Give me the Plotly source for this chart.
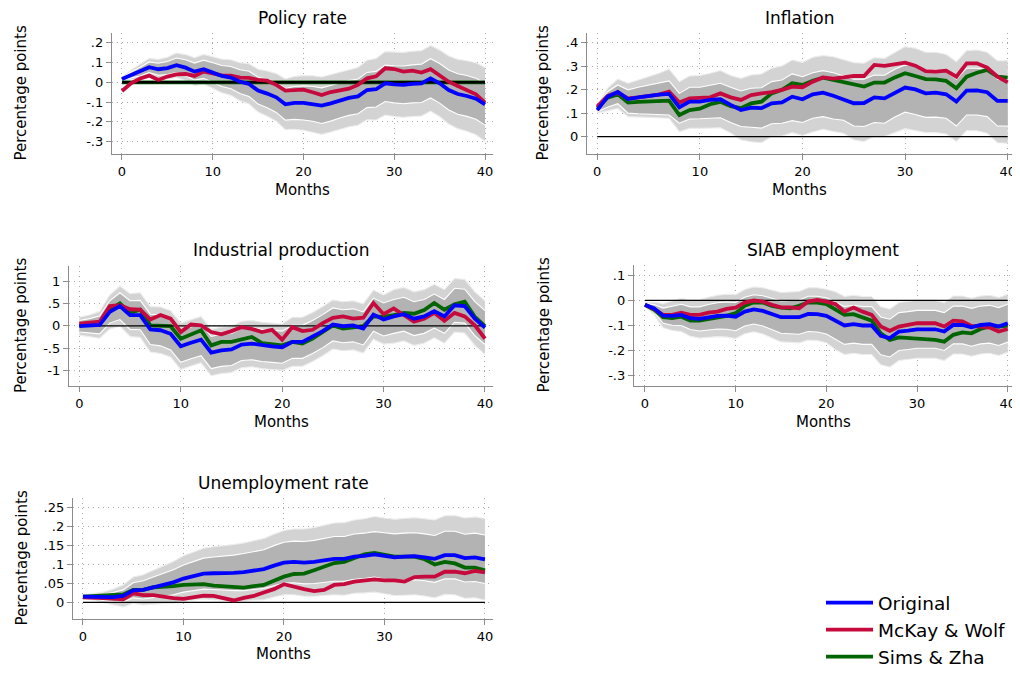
import plotly.graph_objects as go

# horizon in months
MONTHS = list(range(41))

# ---- Policy rate ----
POLICY_ORIG = [0.017, 0.037, 0.054, 0.076, 0.066, 0.072, 0.086, 0.074, 0.054, 0.066, 0.049, 0.032, 0.024, 0.003,
               -0.008, -0.042, -0.057, -0.076, -0.111, -0.104, -0.104, -0.109, -0.118, -0.106, -0.091, -0.079,
               -0.071, -0.039, -0.035, -0.005, -0.010, -0.013, -0.008, -0.005, 0.020, -0.005, -0.039, -0.059,
               -0.069, -0.083, -0.111]
POLICY_MW = [-0.044, -0.005, 0.019, 0.034, 0.012, 0.029, 0.040, 0.042, 0.032, 0.054, 0.045, 0.035, 0.034, 0.024,
             0.022, 0.012, 0.008, -0.013, -0.042, -0.040, -0.037, -0.050, -0.064, -0.049, -0.039, -0.032, -0.013,
             0.020, 0.030, 0.071, 0.067, 0.054, 0.059, 0.049, 0.066, 0.037, 0.003, -0.019, -0.039, -0.061, -0.103]
POLICY_SZ = [0.0, 0.0, 0.0, 0.0, 0.0, 0.0, 0.0, 0.0, 0.0, 0.0, 0.0, 0.0, 0.0, 0.0, 0.0, 0.0, 0.0, 0.0, 0.0, 0.0,
             0.0, 0.0, 0.0, 0.0, 0.0, 0.0, 0.0, 0.0, 0.0, 0.0, 0.0, 0.0, 0.0, 0.0, 0.0, 0.0, 0.0, 0.0, 0.0, 0.0, 0.0]
POLICY_HI90 = [0.025, 0.062, 0.091, 0.121, 0.116, 0.127, 0.148, 0.140, 0.124, 0.141, 0.129, 0.117, 0.114, 0.099,
               0.094, 0.066, 0.057, 0.044, 0.017, 0.029, 0.034, 0.033, 0.027, 0.039, 0.054, 0.066, 0.075, 0.111,
               0.120, 0.155, 0.153, 0.151, 0.157, 0.160, 0.186, 0.163, 0.133, 0.116, 0.109, 0.099, 0.075]
POLICY_HI68 = [0.021, 0.052, 0.076, 0.103, 0.096, 0.105, 0.123, 0.114, 0.097, 0.112, 0.099, 0.085, 0.080, 0.063,
               0.056, 0.026, 0.015, 0.000, -0.031, -0.021, -0.018, -0.021, -0.028, -0.016, -0.002, 0.009, 0.017,
               0.050, 0.055, 0.087, 0.084, 0.082, 0.088, 0.092, 0.119, 0.095, 0.062, 0.043, 0.034, 0.021, -0.006]
POLICY_LO68 = [0.013, 0.022, 0.032, 0.049, 0.036, 0.039, 0.049, 0.034, 0.011, 0.020, -0.001, -0.021, -0.032, -0.057,
               -0.072, -0.110, -0.129, -0.152, -0.191, -0.187, -0.190, -0.197, -0.208, -0.196, -0.180, -0.167,
               -0.159, -0.128, -0.125, -0.097, -0.104, -0.108, -0.104, -0.102, -0.079, -0.105, -0.140, -0.161,
               -0.172, -0.187, -0.216]
POLICY_LO90 = [0.009, 0.012, 0.017, 0.031, 0.016, 0.017, 0.024, 0.008, -0.016, -0.009, -0.031, -0.053, -0.066,
               -0.093, -0.110, -0.150, -0.171, -0.196, -0.239, -0.237, -0.242, -0.251, -0.263, -0.251, -0.236,
               -0.224, -0.217, -0.189, -0.190, -0.165, -0.173, -0.177, -0.173, -0.170, -0.146, -0.173, -0.211,
               -0.234, -0.247, -0.265, -0.297]
POLICY_TICKS = [-0.3, -0.2, -0.1, 0, 0.1, 0.2]
POLICY_TICKTEXT = ["-.3", "-.2", "-.1", "0", ".1", ".2"]

# ---- Inflation ----
INFL_ORIG = [0.113, 0.170, 0.190, 0.160, 0.167, 0.174, 0.179, 0.182, 0.125, 0.149, 0.149, 0.156, 0.159, 0.135,
             0.113, 0.123, 0.121, 0.142, 0.146, 0.170, 0.159, 0.180, 0.187, 0.174, 0.160, 0.142, 0.143, 0.167,
             0.163, 0.187, 0.209, 0.201, 0.184, 0.187, 0.180, 0.149, 0.196, 0.197, 0.189, 0.152, 0.152]
INFL_MW = [0.128, 0.173, 0.187, 0.163, 0.167, 0.173, 0.179, 0.191, 0.145, 0.163, 0.165, 0.167, 0.184, 0.167,
           0.156, 0.177, 0.184, 0.189, 0.199, 0.213, 0.210, 0.234, 0.252, 0.247, 0.252, 0.258, 0.258, 0.305,
           0.301, 0.309, 0.315, 0.302, 0.279, 0.277, 0.281, 0.255, 0.312, 0.312, 0.294, 0.255, 0.231]
INFL_SZ = [0.121, 0.166, 0.180, 0.145, 0.148, 0.150, 0.153, 0.153, 0.092, 0.113, 0.119, 0.138, 0.148, 0.130,
           0.121, 0.142, 0.149, 0.184, 0.199, 0.227, 0.220, 0.238, 0.251, 0.241, 0.234, 0.220, 0.213, 0.230,
           0.230, 0.252, 0.270, 0.258, 0.245, 0.244, 0.237, 0.206, 0.255, 0.272, 0.284, 0.255, 0.251]
INFL_HI90 = [0.130, 0.206, 0.245, 0.227, 0.241, 0.255, 0.270, 0.287, 0.234, 0.258, 0.260, 0.270, 0.281, 0.260,
             0.248, 0.262, 0.267, 0.291, 0.301, 0.326, 0.316, 0.338, 0.345, 0.340, 0.329, 0.315, 0.312, 0.336,
             0.333, 0.357, 0.383, 0.376, 0.359, 0.359, 0.350, 0.319, 0.366, 0.369, 0.359, 0.323, 0.323]
INFL_HI68 = [0.125, 0.191, 0.220, 0.199, 0.210, 0.220, 0.227, 0.237, 0.184, 0.210, 0.210, 0.220, 0.227, 0.210,
             0.194, 0.206, 0.208, 0.234, 0.241, 0.267, 0.255, 0.272, 0.281, 0.272, 0.258, 0.244, 0.244, 0.262,
             0.261, 0.287, 0.305, 0.301, 0.284, 0.284, 0.277, 0.244, 0.291, 0.291, 0.284, 0.244, 0.244]
INFL_LO68 = [0.106, 0.125, 0.140, 0.100, 0.097, 0.095, 0.093, 0.092, 0.057, 0.075, 0.076, 0.079, 0.080, 0.060,
             0.043, 0.040, 0.036, 0.055, 0.057, 0.068, 0.060, 0.078, 0.085, 0.075, 0.070, 0.045, 0.043, 0.060,
             0.057, 0.083, 0.104, 0.094, 0.082, 0.083, 0.078, 0.045, 0.092, 0.092, 0.085, 0.045, 0.045]
INFL_LO90 = [0.100, 0.110, 0.120, 0.085, 0.083, 0.080, 0.079, 0.078, 0.021, 0.035, 0.035, 0.037, 0.038, 0.015,
             -0.014, -0.022, -0.026, 0.000, 0.002, 0.017, 0.005, 0.020, 0.031, 0.022, 0.014, -0.014, -0.021,
             0.000, 0.000, 0.017, 0.034, 0.026, 0.017, 0.017, 0.011, -0.021, 0.026, 0.025, 0.014, -0.026, -0.028]
INFL_TICKS = [0, 0.1, 0.2, 0.3, 0.4]
INFL_TICKTEXT = ["0", ".1", ".2", ".3", ".4"]

# ---- Industrial production ----
IP_ORIG = [-0.01, 0.00, 0.02, 0.31, 0.44, 0.24, 0.24, -0.08, -0.10, -0.18, -0.46, -0.38, -0.31, -0.60, -0.55,
           -0.53, -0.42, -0.40, -0.44, -0.46, -0.48, -0.36, -0.36, -0.25, -0.12, 0.03, -0.01, 0.01, -0.06, 0.25,
           0.14, 0.21, 0.26, 0.16, 0.21, 0.33, 0.21, 0.46, 0.44, 0.16, -0.04]
IP_MW = [0.05, 0.06, 0.09, 0.44, 0.46, 0.37, 0.36, 0.14, 0.24, 0.16, -0.14, 0.03, 0.01, -0.14, -0.19, -0.12,
         -0.03, -0.07, -0.14, -0.09, -0.31, -0.03, -0.12, -0.09, 0.06, 0.18, 0.21, 0.16, 0.18, 0.51, 0.26, 0.39,
         0.24, 0.09, 0.16, 0.29, 0.11, 0.29, 0.21, 0.01, -0.29]
IP_SZ = [0.01, 0.03, 0.06, 0.36, 0.50, 0.29, 0.36, 0.01, 0.01, -0.01, -0.29, -0.19, -0.10, -0.44, -0.36, -0.36,
         -0.31, -0.25, -0.39, -0.42, -0.44, -0.36, -0.40, -0.29, -0.14, 0.01, -0.06, -0.03, -0.01, 0.21, 0.20,
         0.24, 0.29, 0.27, 0.35, 0.51, 0.36, 0.48, 0.54, 0.20, -0.01]
IP_HI90 = [0.19, 0.24, 0.32, 0.69, 0.89, 0.72, 0.74, 0.43, 0.42, 0.34, 0.06, 0.14, 0.21, -0.08, -0.03, -0.01,
           0.10, 0.12, 0.08, 0.06, 0.04, 0.19, 0.19, 0.30, 0.43, 0.58, 0.54, 0.56, 0.49, 0.80, 0.69, 0.81, 0.86,
           0.76, 0.81, 0.93, 0.81, 1.06, 1.04, 0.76, 0.56]
IP_HI68 = [0.12, 0.16, 0.22, 0.56, 0.74, 0.56, 0.57, 0.26, 0.25, 0.18, -0.10, -0.02, 0.05, -0.24, -0.19, -0.17,
           -0.06, -0.04, -0.08, -0.10, -0.12, 0.01, 0.01, 0.12, 0.25, 0.40, 0.36, 0.38, 0.31, 0.62, 0.51, 0.59,
           0.64, 0.54, 0.59, 0.71, 0.59, 0.84, 0.82, 0.54, 0.34]
IP_LO68 = [-0.14, -0.16, -0.18, 0.06, 0.14, -0.08, -0.09, -0.42, -0.45, -0.54, -0.82, -0.74, -0.67, -0.96, -0.91,
           -0.89, -0.78, -0.76, -0.80, -0.82, -0.84, -0.73, -0.73, -0.62, -0.49, -0.34, -0.38, -0.36, -0.43,
           -0.12, -0.23, -0.17, -0.12, -0.22, -0.17, -0.05, -0.17, 0.08, 0.06, -0.22, -0.42]
IP_LO90 = [-0.21, -0.24, -0.28, -0.07, -0.01, -0.24, -0.26, -0.59, -0.62, -0.70, -0.98, -0.90, -0.83, -1.12,
           -1.07, -1.05, -0.94, -0.92, -0.96, -0.98, -1.00, -0.91, -0.91, -0.80, -0.67, -0.52, -0.56, -0.54,
           -0.61, -0.30, -0.41, -0.39, -0.34, -0.44, -0.39, -0.27, -0.39, -0.14, -0.16, -0.44, -0.64]
IP_TICKS = [-1, -0.5, 0, 0.5, 1]
IP_TICKTEXT = ["-1", "-.5", "0", ".5", "1"]

# ---- SIAB employment ----
SIAB_ORIG = [-0.018, -0.032, -0.061, -0.062, -0.058, -0.071, -0.074, -0.067, -0.062, -0.061, -0.065, -0.045,
             -0.036, -0.042, -0.054, -0.067, -0.067, -0.067, -0.054, -0.055, -0.062, -0.081, -0.100, -0.095,
             -0.100, -0.100, -0.141, -0.150, -0.124, -0.120, -0.115, -0.115, -0.115, -0.124, -0.098, -0.098,
             -0.107, -0.098, -0.095, -0.104, -0.091]
SIAB_MW = [-0.018, -0.034, -0.058, -0.058, -0.049, -0.058, -0.058, -0.049, -0.045, -0.034, -0.029, -0.009,
           -0.001, -0.005, -0.018, -0.028, -0.028, -0.032, -0.005, 0.001, -0.005, -0.015, -0.045, -0.029, -0.045,
           -0.058, -0.104, -0.121, -0.104, -0.098, -0.091, -0.091, -0.091, -0.104, -0.081, -0.084, -0.102,
           -0.104, -0.108, -0.124, -0.114]
SIAB_SZ = [-0.018, -0.038, -0.067, -0.071, -0.065, -0.081, -0.081, -0.074, -0.067, -0.062, -0.051, -0.022,
           -0.008, -0.009, -0.022, -0.029, -0.032, -0.022, -0.008, -0.009, -0.015, -0.036, -0.058, -0.055, -0.067,
           -0.081, -0.131, -0.157, -0.147, -0.150, -0.153, -0.153, -0.157, -0.164, -0.137, -0.127, -0.131,
           -0.114, -0.104, -0.104, -0.100]
SIAB_HI90 = [-0.010, -0.007, -0.013, -0.004, 0.008, 0.001, 0.002, 0.012, 0.020, 0.024, 0.022, 0.043, 0.053,
             0.050, 0.041, 0.031, 0.033, 0.035, 0.050, 0.050, 0.044, 0.034, 0.015, 0.020, 0.015, 0.015, -0.026,
             -0.035, -0.009, -0.005, 0.000, 0.000, 0.000, -0.009, 0.017, 0.017, 0.008, 0.017, 0.020, 0.011, 0.024]
SIAB_HI68 = [-0.013, -0.017, -0.031, -0.025, -0.016, -0.026, -0.026, -0.017, -0.010, -0.007, -0.009, 0.012,
             0.022, 0.018, 0.008, -0.003, -0.001, 0.001, 0.016, 0.016, 0.010, -0.006, -0.025, -0.020, -0.025,
             -0.025, -0.066, -0.075, -0.049, -0.045, -0.040, -0.040, -0.040, -0.049, -0.023, -0.023, -0.032,
             -0.023, -0.020, -0.029, -0.016]
SIAB_LO68 = [-0.023, -0.047, -0.091, -0.099, -0.100, -0.116, -0.122, -0.117, -0.114, -0.115, -0.121, -0.102,
             -0.094, -0.102, -0.116, -0.131, -0.133, -0.135, -0.124, -0.126, -0.134, -0.156, -0.175, -0.170,
             -0.175, -0.175, -0.216, -0.225, -0.199, -0.195, -0.190, -0.190, -0.190, -0.199, -0.173, -0.173,
             -0.182, -0.173, -0.170, -0.179, -0.166]
SIAB_LO90 = [-0.026, -0.057, -0.109, -0.120, -0.124, -0.143, -0.150, -0.146, -0.144, -0.146, -0.152, -0.133,
             -0.125, -0.134, -0.149, -0.165, -0.167, -0.169, -0.158, -0.160, -0.168, -0.196, -0.215, -0.210,
             -0.215, -0.215, -0.256, -0.265, -0.239, -0.235, -0.230, -0.230, -0.230, -0.239, -0.213, -0.213,
             -0.222, -0.213, -0.210, -0.219, -0.206]
SIAB_TICKS = [-0.3, -0.2, -0.1, 0, 0.1]
SIAB_TICKTEXT = ["-.3", "-.2", "-.1", "0", ".1"]

# ---- Unemployment rate ----
UNEMP_ORIG = [0.015, 0.015, 0.013, 0.014, 0.017, 0.032, 0.033, 0.040, 0.046, 0.053, 0.063, 0.070, 0.076, 0.077,
              0.077, 0.078, 0.080, 0.085, 0.088, 0.097, 0.105, 0.107, 0.105, 0.107, 0.111, 0.115, 0.115, 0.121,
              0.123, 0.127, 0.123, 0.119, 0.121, 0.122, 0.119, 0.115, 0.125, 0.125, 0.117, 0.119, 0.114]
UNEMP_MW = [0.013, 0.013, 0.011, 0.010, 0.008, 0.024, 0.019, 0.019, 0.014, 0.011, 0.009, 0.014, 0.018, 0.017,
            0.012, 0.005, 0.012, 0.017, 0.026, 0.035, 0.048, 0.041, 0.035, 0.030, 0.033, 0.046, 0.048, 0.055,
            0.057, 0.061, 0.058, 0.058, 0.055, 0.067, 0.068, 0.068, 0.081, 0.081, 0.077, 0.083, 0.079]
UNEMP_SZ = [0.015, 0.017, 0.018, 0.019, 0.021, 0.033, 0.033, 0.040, 0.041, 0.043, 0.046, 0.047, 0.048, 0.044,
            0.043, 0.040, 0.039, 0.043, 0.046, 0.057, 0.068, 0.075, 0.076, 0.085, 0.094, 0.104, 0.107, 0.118,
            0.127, 0.131, 0.127, 0.121, 0.121, 0.121, 0.114, 0.100, 0.107, 0.103, 0.092, 0.092, 0.085]
UNEMP_HI90 = [0.020, 0.024, 0.027, 0.035, 0.046, 0.067, 0.073, 0.085, 0.096, 0.108, 0.123, 0.134, 0.143, 0.147,
              0.149, 0.153, 0.157, 0.164, 0.169, 0.180, 0.190, 0.194, 0.194, 0.198, 0.204, 0.210, 0.211, 0.218,
              0.221, 0.227, 0.223, 0.220, 0.222, 0.224, 0.221, 0.218, 0.229, 0.230, 0.223, 0.226, 0.222]
UNEMP_HI68 = [0.018, 0.020, 0.021, 0.026, 0.033, 0.052, 0.057, 0.067, 0.076, 0.086, 0.099, 0.109, 0.117, 0.120,
              0.122, 0.125, 0.129, 0.135, 0.139, 0.150, 0.159, 0.162, 0.161, 0.164, 0.169, 0.174, 0.174, 0.181,
              0.183, 0.187, 0.184, 0.181, 0.183, 0.184, 0.181, 0.177, 0.188, 0.188, 0.180, 0.183, 0.178]
UNEMP_LO68 = [0.012, 0.010, 0.005, 0.002, 0.001, 0.012, 0.009, 0.013, 0.016, 0.020, 0.027, 0.031, 0.035, 0.034,
              0.032, 0.031, 0.031, 0.035, 0.037, 0.044, 0.051, 0.052, 0.049, 0.050, 0.053, 0.056, 0.056, 0.061,
              0.063, 0.067, 0.062, 0.057, 0.059, 0.060, 0.057, 0.053, 0.062, 0.062, 0.054, 0.055, 0.050]
UNEMP_LO90 = [0.010, 0.006, -0.001, -0.007, -0.012, -0.003, -0.007, -0.005, -0.004, -0.002, 0.003, 0.006, 0.009,
              0.007, 0.005, 0.003, 0.003, 0.006, 0.007, 0.014, 0.020, 0.020, 0.016, 0.016, 0.018, 0.020, 0.019,
              0.024, 0.025, 0.027, 0.023, 0.018, 0.019, 0.020, 0.017, 0.012, 0.021, 0.020, 0.011, 0.012, 0.006]
UNEMP_TICKS = [0, 0.05, 0.1, 0.15, 0.2, 0.25]
UNEMP_TICKTEXT = ["0", ".05", ".1", ".15", ".2", ".25"]

X_TICKS = [0, 10, 20, 30, 40]
SERIES_NAMES = ["Original", "McKay & Wolf", "Sims & Zha"]

# the page body adds an 8px margin on every side; the figure is drawn smaller so
# no scrollbar appears, and reference pixel positions are shifted by that amount
PAGE_W, PAGE_H, PAD = 1020, 675, 8
W, H = PAGE_W - PAD, PAGE_H - 2 * PAD
FONT = "DejaVu Sans"
BLUE = "#0000FF"
RED = "#C70A3E"
GREEN = "#006400"
OUTER = "#D3D3D3"
INNER = "#B3B3B3"
AXIS = "#8C8C8C"


def px(x):
    return (x - PAD) / W


def py(y):
    return 1 - (y - PAD) / H


# box = plot region in page pixels (left, top, right, bottom)
PANELS = [
    dict(title="Policy rate", lines=(POLICY_ORIG, POLICY_MW, POLICY_SZ),
         bands=(POLICY_LO90, POLICY_HI90, POLICY_LO68, POLICY_HI68),
         box=(112, 33, 493, 154), xr=[-1.1, 40.88], yr=[-0.362, 0.249], zero_w=2.4,
         ticks=(POLICY_TICKS, POLICY_TICKTEXT), ylab_x=21, title_y=18, months_y=190),
    dict(title="Inflation", lines=(INFL_ORIG, INFL_MW, INFL_SZ),
         bands=(INFL_LO90, INFL_HI90, INFL_LO68, INFL_HI68),
         box=(587, 33, 1012, 154), xr=[-1.0, 40.42], yr=[-0.074, 0.441], zero_w=1.3,
         ticks=(INFL_TICKS, INFL_TICKTEXT), ylab_x=543, title_y=18, months_y=190),
    dict(title="Industrial production", lines=(IP_ORIG, IP_MW, IP_SZ),
         bands=(IP_LO90, IP_HI90, IP_LO68, IP_HI68),
         box=(69, 266, 493, 386), xr=[-1.02, 40.79], yr=[-1.35, 1.34], zero_w=1.3,
         ticks=(IP_TICKS, IP_TICKTEXT), ylab_x=21, title_y=250, months_y=422),
    dict(title="SIAB employment", lines=(SIAB_ORIG, SIAB_MW, SIAB_SZ),
         bands=(SIAB_LO90, SIAB_HI90, SIAB_LO68, SIAB_HI68),
         box=(634, 265, 1012, 386), xr=[-1.21, 40.47], yr=[-0.34, 0.14], zero_w=1.3,
         ticks=(SIAB_TICKS, SIAB_TICKTEXT), ylab_x=543, title_y=250, months_y=422),
    dict(title="Unemployment rate", lines=(UNEMP_ORIG, UNEMP_MW, UNEMP_SZ),
         bands=(UNEMP_LO90, UNEMP_HI90, UNEMP_LO68, UNEMP_HI68),
         box=(73, 498, 493, 619), xr=[-0.99, 40.8], yr=[-0.044, 0.276], zero_w=1.3,
         ticks=(UNEMP_TICKS, UNEMP_TICKTEXT), ylab_x=21, title_y=483, months_y=654),
]

fig = go.Figure()
annotations = []
layout_axes = {}

for i, p in enumerate(PANELS):
    sfx = "" if i == 0 else str(i + 1)
    xa, ya = "x" + sfx, "y" + sfx
    lo90, hi90, lo68, hi68 = p["bands"]
    common = dict(x=MONTHS, mode="lines", xaxis=xa, yaxis=ya, hoverinfo="skip", showlegend=False)

    # confidence bands (90% light, 68% dark) with white edges
    fig.add_trace(go.Scatter(y=lo90, line=dict(width=0), **common))
    fig.add_trace(go.Scatter(y=hi90, line=dict(width=0), fill="tonexty", fillcolor=OUTER, **common))
    fig.add_trace(go.Scatter(y=lo68, line=dict(width=0), **common))
    fig.add_trace(go.Scatter(y=hi68, line=dict(width=0), fill="tonexty", fillcolor=INNER, **common))
    for edge, col in ((lo90, "#EDEDED"), (hi90, "#EDEDED"), (lo68, "white"), (hi68, "white")):
        fig.add_trace(go.Scatter(y=edge, line=dict(color=col, width=1.1), **common))

    orig, mw, sz = p["lines"]
    fig.add_trace(go.Scatter(x=MONTHS, y=sz, mode="lines", name=SERIES_NAMES[2], legendgroup="sz",
                             legendrank=3, showlegend=(i == 0), line=dict(color=GREEN, width=3.8),
                             xaxis=xa, yaxis=ya))
    # zero reference line
    fig.add_trace(go.Scatter(x=[MONTHS[0], MONTHS[-1]], y=[0, 0], mode="lines", xaxis=xa, yaxis=ya,
                             line=dict(color="black", width=p["zero_w"]), hoverinfo="skip", showlegend=False))
    fig.add_trace(go.Scatter(x=MONTHS, y=mw, mode="lines", name=SERIES_NAMES[1], legendgroup="mw",
                             legendrank=2, showlegend=(i == 0), line=dict(color=RED, width=3.8),
                             xaxis=xa, yaxis=ya))
    fig.add_trace(go.Scatter(x=MONTHS, y=orig, mode="lines", name=SERIES_NAMES[0], legendgroup="orig",
                             legendrank=1, showlegend=(i == 0), line=dict(color=BLUE, width=3.8),
                             xaxis=xa, yaxis=ya))

    left, top, right, bottom = p["box"]
    axis_style = dict(showline=True, linecolor=AXIS, linewidth=1.3, ticks="outside", ticklen=5,
                      tickcolor=AXIS, tickwidth=1, showgrid=True, gridcolor="#A8A8A8", griddash="1px,4px",
                      gridwidth=1, zeroline=False, ticklabeloverflow="allow",
                      tickfont=dict(size=13, color="black", family=FONT))
    layout_axes["xaxis" + sfx] = dict(domain=[px(left), px(right)], range=p["xr"], anchor=ya,
                                      tickvals=X_TICKS, **axis_style)
    layout_axes["yaxis" + sfx] = dict(domain=[py(bottom), py(top)], range=p["yr"], anchor=xa,
                                      tickvals=p["ticks"][0], ticktext=p["ticks"][1], **axis_style)

    cx = px((left + right) / 2)
    annotations.append(dict(text=p["title"], x=cx, y=py(p["title_y"]), xref="paper", yref="paper",
                            showarrow=False, xanchor="center", yanchor="middle",
                            font=dict(size=17, color="black", family=FONT)))
    annotations.append(dict(text="Months", x=cx, y=py(p["months_y"]), xref="paper", yref="paper",
                            showarrow=False, xanchor="center", yanchor="middle",
                            font=dict(size=15, color="black", family=FONT)))
    annotations.append(dict(text="Percentage points", x=px(p["ylab_x"]), y=py((top + bottom) / 2),
                            xref="paper", yref="paper", showarrow=False, textangle=-90,
                            xanchor="center", yanchor="middle",
                            font=dict(size=15, color="black", family=FONT)))

fig.update_layout(
    width=W, height=H,
    margin=dict(l=0, r=0, t=0, b=0, autoexpand=False),
    paper_bgcolor="white", plot_bgcolor="white",
    font=dict(family=FONT, color="black"),
    annotations=annotations,
    showlegend=True,
    legend=dict(x=px(821), y=py(584), xanchor="left", yanchor="top", bgcolor="rgba(0,0,0,0)",
                font=dict(size=18.5, color="black", family=FONT), tracegroupgap=0, itemwidth=47),
    **layout_axes,
)

fig.write_html("out.html")
